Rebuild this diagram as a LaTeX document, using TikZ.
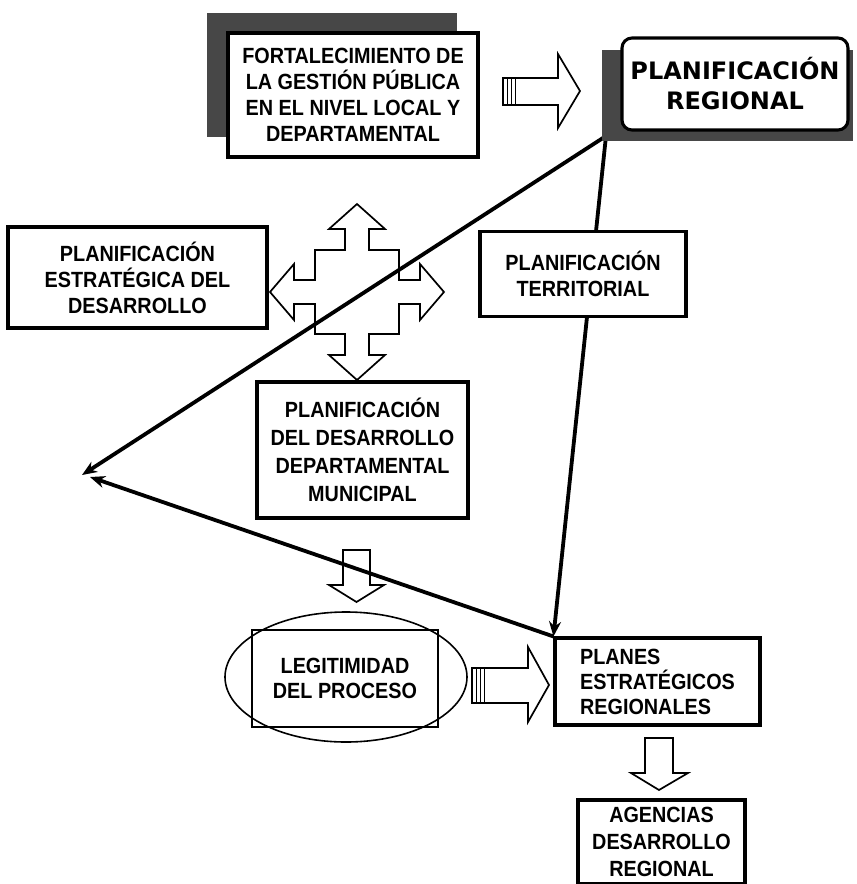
\documentclass[tikz,border=0pt]{standalone}
\usepackage{fontspec}
\setmainfont{Liberation Sans}[FakeStretch=0.9]
\newfontfamily\heavyfont{DejaVu Sans}
\usetikzlibrary{shapes.geometric,arrows.meta}
\pgfdeclarelayer{bg}
\pgfsetlayers{bg,main}
\begin{document}
\begin{tikzpicture}[x=1pt,y=-1pt,
  box/.style={draw, line width=3.1pt, fill=white, inner sep=0pt, align=center,
    font=\bfseries\fontsize{22}{26}\selectfont},
  blockarrow/.style={draw, line width=1.7pt, line join=miter},
  stripe/.style={line width=0.8pt},
  link/.style={line width=3.8pt, -{Stealth[length=15pt,width=12pt]}},
  shade/.style={fill=black!72}]
\useasboundingbox (0,0) rectangle (857,884);

% --- shadows
\fill[shade] (207,13) rectangle (457,137);
\fill[shade] (602,50) rectangle (853,141);

% --- boxes
\node[box, minimum width=250pt, minimum height=124pt] (fort) at (353,95)
  {FORTALECIMIENTO DE\\LA GESTIÓN PÚBLICA\\EN EL NIVEL LOCAL Y\\DEPARTAMENTAL};
\node[box, rounded corners=10pt, minimum width=226pt, minimum height=92pt,
  font=\heavyfont\bfseries\fontsize{24}{30}\selectfont] (pr) at (735,84)
  {PLANIFICACIÓN\\REGIONAL};
\node[box, minimum width=259pt, minimum height=101pt] (estr) at (137.5,277.5)
  {PLANIFICACIÓN\\ESTRATÉGICA DEL\\DESARROLLO};
\node[box, minimum width=206pt, minimum height=85pt] (terr) at (583,274)
  {PLANIFICACIÓN\\TERRITORIAL};
\node[box, minimum width=211pt, minimum height=136pt,
  font=\bfseries\fontsize{22}{28}\selectfont] (dev) at (362.5,450)
  {PLANIFICACIÓN\\DEL DESARROLLO\\DEPARTAMENTAL\\MUNICIPAL};
\node[draw, ellipse, line width=1.6pt, minimum width=242pt, minimum height=130pt,
  inner sep=0pt] (ell) at (346,677) {};
\node[draw, line width=1.3pt, minimum width=186pt, minimum height=97pt, inner sep=0pt,
  align=center, font=\bfseries\fontsize{22}{25}\selectfont] (legit) at (345,678.5)
  {LEGITIMIDAD\\DEL PROCESO};
\node[box, minimum width=205pt, minimum height=87pt, align=left,
  font=\bfseries\fontsize{22}{25}\selectfont] (planes) at (657.5,681.5)
  {PLANES\\ESTRATÉGICOS\\REGIONALES};
\node[box, minimum width=167pt, minimum height=84pt,
  font=\bfseries\fontsize{22}{27}\selectfont] (agen) at (661.5,842)
  {AGENCIAS\\DESARROLLO\\REGIONAL};

% --- connectors (behind boxes)
\coordinate (o) at (606,136);
\coordinate (tipA) at (82,475);
\coordinate (tipC) at (90,477);
\begin{pgfonlayer}{bg}
  \draw[link] (o) -- (tipA);
  \draw[link] (o) -- (planes.north west);
  \draw[link] (planes.north west) -- (tipC);
\end{pgfonlayer}

% --- block arrows
\draw[blockarrow] (503,78) -- (558,78) -- (558,54) -- (580,91) -- (558,128)
  -- (558,105) -- (503,105) -- cycle;
\foreach \x in {507,511,515} \draw[stripe] (\x,78) -- (\x,105);

\draw[blockarrow] (472,668) -- (528,668) -- (528,647) -- (549,685) -- (528,722)
  -- (528,703) -- (472,703) -- cycle;
\foreach \x in {476,480,484} \draw[stripe] (\x,668) -- (\x,703);

\draw[blockarrow] (343,550) -- (370,550) -- (370,585) -- (384,585) -- (356.5,602)
  -- (329,585) -- (343,585) -- cycle;

\draw[blockarrow] (645,738) -- (673,738) -- (673,773) -- (688,773) -- (659,790)
  -- (631,773) -- (645,773) -- cycle;

% --- four-way arrow
\begin{scope}[shift={(357,292)}]
\draw[blockarrow] (0,-88) -- (28,-63) -- (12,-63) -- (12,-42) -- (42,-42) -- (42,-12)
  -- (63,-12) -- (63,-28) -- (87,0) -- (63,28) -- (63,12) -- (42,12) -- (42,42)
  -- (12,42) -- (12,63) -- (28,63) -- (0,88) -- (-28,63) -- (-12,63) -- (-12,42)
  -- (-42,42) -- (-42,12) -- (-63,12) -- (-63,28) -- (-87,0) -- (-63,-28)
  -- (-63,-12) -- (-42,-12) -- (-42,-42) -- (-12,-42) -- (-12,-63) -- (-28,-63) -- cycle;
\end{scope}
\end{tikzpicture}
\end{document}
